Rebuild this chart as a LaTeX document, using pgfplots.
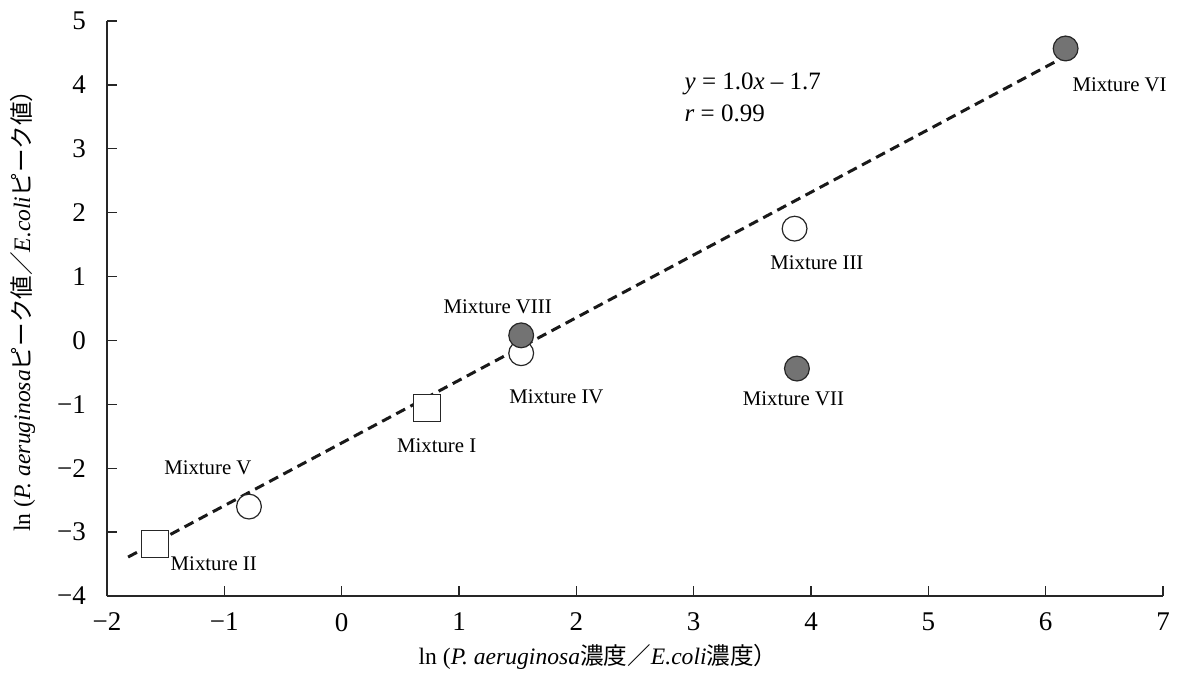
\documentclass[border=0pt]{standalone}
\usepackage{fontspec}
\setmainfont{Liberation Serif}
\newfontfamily\jp{Noto Sans CJK JP}
\usepackage{pgfplots}
\pgfplotsset{compat=1.18}
\begin{document}
\begin{tikzpicture}
\begin{axis}[name=ax, scale only axis, width=528pt, height=287.5pt,
  xmin=-2, xmax=7, ymin=-4, ymax=5,
  axis x line=bottom, axis y line=left,
  axis line style={-, black!85, line width=0.7pt},
  xtick={-2,...,7}, ytick={-4,...,5},
  xticklabels={−2,−1,0,1,2,3,4,5,6,7},
  yticklabels={−4,−3,−2,−1,0,1,2,3,4,5},
  tick align=inside, major tick length=5pt,
  tick style={black!85, line width=0.7pt},
  ticklabel style={font=\fontsize{13.5}{15}\selectfont},
  xticklabel style={yshift=-5pt},
  yticklabel style={xshift=-7pt},
  xlabel={ln (\textit{P. aeruginosa}{\jp 濃度／}\textit{E.coli}{\jp 濃度）}},
  ylabel={ln (\textit{P. aeruginosa}{\jp ピーク値／}\textit{E.coli}{\jp ピーク値）}},
  label style={font=\fontsize{11.8}{14}\selectfont},
  xlabel style={at={(axis description cs:0.465,-0.106)}, anchor=center},
  ylabel style={at={(axis description cs:-0.08,0.506)}, anchor=center},
  clip=false]
% regression line
\addplot[black!90, line width=1.5pt, dash pattern=on 5pt off 3pt] coordinates {(-1.82,-3.39) (6.09,4.37)};
% squares
\addplot[only marks, mark=square*, mark size=6.75pt, mark options={fill=white, draw=black!85, line width=0.6pt}] coordinates {(-1.59,-3.19) (0.73,-1.06)};
% open circles
\addplot[only marks, mark=*, mark size=6.2pt, mark options={fill=white, draw=black!85, line width=0.6pt}] coordinates {(-0.79,-2.6) (1.53,-0.2) (3.86,1.75)};
% filled circles
\addplot[only marks, mark=*, mark size=6.2pt, mark options={fill=black!55, draw=black!85, line width=0.6pt}] coordinates {(1.53,0.08) (3.88,-0.44) (6.17,4.57)};
\begin{scope}[every node/.style={font=\fontsize{10.4}{12}\selectfont}]
\node at (axis cs:6.63,4.0) {Mixture VI};
\node at (axis cs:4.05,1.22) {Mixture III};
\node at (axis cs:1.33,0.53) {Mixture VIII};
\node at (axis cs:1.83,-0.88) {Mixture IV};
\node at (axis cs:3.85,-0.91) {Mixture VII};
\node at (axis cs:0.81,-1.64) {Mixture I};
\node at (axis cs:-1.14,-2.0) {Mixture V};
\node at (axis cs:-1.09,-3.5) {Mixture II};
\end{scope}
\node[anchor=west, font=\fontsize{12.5}{15}\selectfont, inner sep=0pt] at (axis cs:2.92,4.02) {\textit{y} = 1.0\textit{x} – 1.7};
\node[anchor=west, font=\fontsize{12.5}{15}\selectfont, inner sep=0pt] at (axis cs:2.92,3.55) {\textit{r} = 0.99};
\end{axis}
\pgfresetboundingbox
\path ([xshift=-53.5pt, yshift=-40pt]ax.south west) rectangle ([xshift=7pt, yshift=10.5pt]ax.north east);
\end{tikzpicture}
\end{document}
